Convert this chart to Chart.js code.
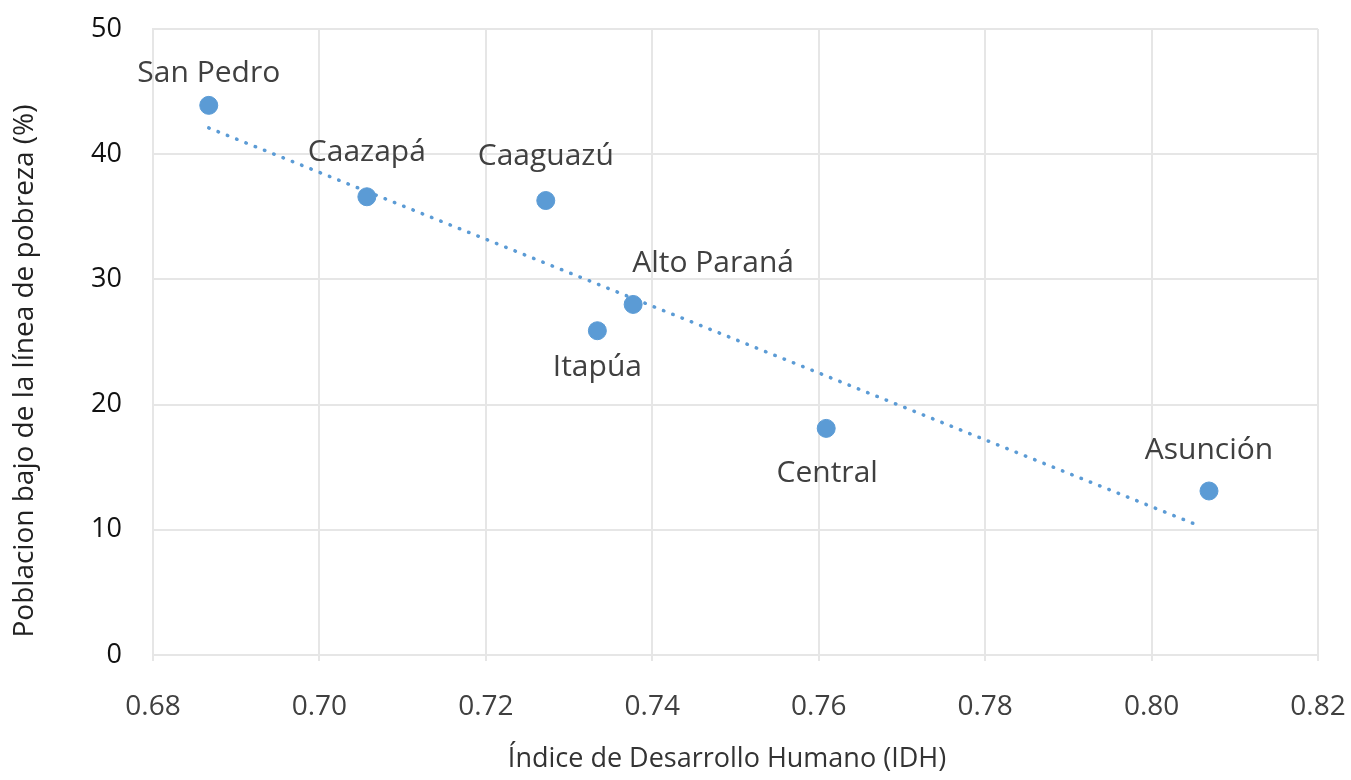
<!DOCTYPE html>
<html>
<head>
<meta charset="utf-8">
<script src="https://cdn.jsdelivr.net/npm/chart.js@4"></script>
<style>
  html, body { margin: 0; padding: 0; background: #fff; }
  #wrap { width: 1351px; height: 780px; }
</style>
</head>
<body>
<div id="wrap"><canvas id="chart" width="1351" height="780"></canvas></div>
<script>
// Data
const provinces = ['San Pedro', 'Caazapá', 'Caaguazú', 'Itapúa', 'Alto Paraná', 'Central', 'Asunción'];
const idh = [0.6867, 0.7057, 0.7272, 0.7334, 0.7377, 0.7609, 0.8069];
const poverty = [43.9, 36.6, 36.3, 25.9, 28.0, 18.1, 13.1];

// Trend line end points
const trendX = [0.6867, 0.8058];
const trendY = [42.1, 10.3];

const xTicks = [0.68, 0.70, 0.72, 0.74, 0.76, 0.78, 0.80, 0.82];
const yTicks = [0, 10, 20, 30, 40, 50];

const xTitle = 'Índice de Desarrollo Humano (IDH)';
const yTitle = 'Poblacion bajo de la línea de pobreza (%)';

const fontFamily = '"Open Sans", Lato, sans-serif';
const blue = '#5B9BD5';
const gridColor = '#e6e6e6';

// where each label sits relative to its point
const labelOffset = {
    'San Pedro': [0, -32],
    'Caazapá': [0, -44],
    'Caaguazú': [0, -44],
    'Itapúa': [0, 37],
    'Alto Paraná': [80, -41],
    'Central': [1, 45],
    'Asunción': [0, -41]
};

const pointLabels = {
    id: 'pointLabels',
    afterDatasetsDraw(chart) {
        const ctx = chart.ctx;
        const meta = chart.getDatasetMeta(0);
        ctx.save();
        ctx.font = '30px ' + fontFamily;
        ctx.fillStyle = '#404040';
        ctx.textAlign = 'center';
        ctx.textBaseline = 'middle';
        meta.data.forEach((pt, i) => {
            const off = labelOffset[provinces[i]] || [0, -35];
            ctx.fillText(provinces[i], pt.x + off[0], pt.y + off[1]);
        });
        ctx.restore();
    }
};

// axis titles, placed like in the original
const axisTitles = {
    id: 'axisTitles',
    afterDraw(chart) {
        const ctx = chart.ctx;
        ctx.save();
        ctx.textAlign = 'center';
        ctx.textBaseline = 'alphabetic';

        ctx.font = '27px ' + fontFamily;
        ctx.fillStyle = '#333';
        ctx.fillText(xTitle, 727, 767);

        ctx.font = '28px ' + fontFamily;
        ctx.fillStyle = '#222';
        ctx.translate(33, 371);
        ctx.rotate(-Math.PI / 2);
        ctx.fillText(yTitle, 0, 0);
        ctx.restore();
    }
};

const points = idh.map((x, i) => ({ x: x, y: poverty[i] }));
const trend = trendX.map((x, i) => ({ x: x, y: trendY[i] }));

new Chart(document.getElementById('chart'), {
    type: 'scatter',
    data: {
        datasets: [{
            label: 'Departamentos',
            data: points,
            backgroundColor: blue,
            borderColor: blue,
            pointRadius: 9,
            pointHoverRadius: 9,
            order: 1
        }, {
            type: 'line',
            label: 'Tendencia',
            data: trend,
            borderColor: blue,
            borderWidth: 3.5,
            borderDash: [0.5, 9.5],
            borderCapStyle: 'round',
            pointRadius: 0,
            fill: false,
            order: 2
        }]
    },
    options: {
        responsive: false,
        animation: false,
        layout: { padding: { left: 0, right: 33, top: 29, bottom: 0 } },
        plugins: {
            legend: { display: false },
            tooltip: { enabled: false }
        },
        scales: {
            x: {
                type: 'linear',
                min: 0.68,
                max: 0.82,
                afterFit: s => {
                    s.height = 125;
                    s.paddingLeft = 0;
                    s.paddingRight = 0;
                },
                afterBuildTicks: s => { s.ticks = xTicks.map(v => ({ value: v })); },
                grid: { color: gridColor, lineWidth: 2, tickLength: 6 },
                border: { color: gridColor, width: 2 },
                ticks: {
                    padding: 29,
                    color: '#404040',
                    font: { family: fontFamily, size: 28 },
                    callback: v => v.toFixed(2)
                },
                title: { display: false }
            },
            y: {
                min: 0,
                max: 50,
                afterFit: s => {
                    s.width = 153;
                    s.paddingTop = 0;
                    s.paddingBottom = 0;
                },
                afterBuildTicks: s => { s.ticks = yTicks.map(v => ({ value: v })); },
                grid: { color: gridColor, lineWidth: 2, drawTicks: false },
                border: { color: gridColor, width: 2 },
                ticks: {
                    padding: 31,
                    color: '#111',
                    font: { family: fontFamily, size: 27 }
                },
                title: { display: false }
            }
        }
    },
    plugins: [pointLabels, axisTitles]
});
</script>
</body>
</html>
